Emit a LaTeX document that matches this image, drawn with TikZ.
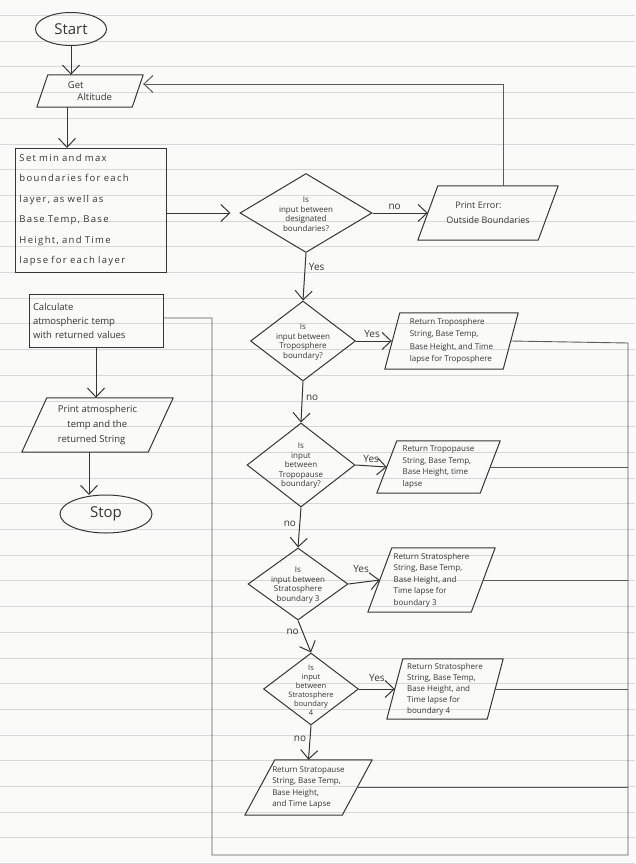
\documentclass[tikz,border=0pt]{standalone}
\usepackage{fontspec}
\setmainfont{Open Sans}
\usetikzlibrary{shapes.geometric,arrows.meta,calc}
\definecolor{pencil}{HTML}{363636}
\definecolor{softpencil}{HTML}{5A5A5A}
\definecolor{ruling}{HTML}{D4D8DD}
\definecolor{paper}{HTML}{FAFAF8}

% outline of a slanted input/output box drawn round a rectangular node
\newcommand\paraoutline[2]{%
  \draw[draw=pencil,line width=1pt,line join=round]
    ([xshift=#2]#1.north west) -- (#1.north east) --
    ([xshift=-#2]#1.south east) -- (#1.south west) -- cycle;}

\begin{document}
\begin{tikzpicture}[x=1pt,y=-1pt,
  ink/.style={draw=pencil,line width=1pt},
  flow/.style={draw=pencil,line width=1pt,
    -{Straight Barb[length=9pt,width=17pt,line width=1pt]}},
  ret/.style={draw=softpencil,line width=0.9pt},
  loopback/.style={draw=softpencil,line width=0.9pt,
    -{Straight Barb[length=9pt,width=17pt,line width=1pt]}},
  txt/.style={text=pencil,font=\fontsize{8.5}{11}\selectfont,align=left},
  terminal/.style={ellipse,ink,inner sep=0pt,text=pencil,
    font=\fontsize{15}{17}\selectfont},
  procbox/.style={rectangle,ink,inner sep=0pt,txt},
  iobox/.style={rectangle,inner sep=0pt,txt},
  decision/.style={diamond,ink,inner sep=0pt},
  dtext/.style={text=pencil,font=\fontsize{8}{9.5}\selectfont,align=center},
  branch/.style={text=pencil,font=\fontsize{10}{11}\selectfont},
]
% ruled paper
\fill[paper] (0,0) rectangle (635,864);
\useasboundingbox (0,0) rectangle (635,864);
\foreach \k in {0,...,33}
  \draw[ruling,line width=0.6pt] (0,{15.3+25.7*\k}) -- (635,{15.3+25.7*\k});

% ---- left column
\node[terminal,minimum width=71pt,minimum height=33pt] (start) at (71,29) {Start};

\node[iobox,minimum width=106pt,minimum height=32pt,
  font=\fontsize{9.5}{12}\selectfont] (alt) at (90,91) {Get\\\quad Altitude};
\paraoutline{alt}{11pt}

\node[procbox,minimum width=151pt,minimum height=124pt,text width=142pt,
  font=\fontsize{9.5}{20.5}\selectfont\addfontfeature{LetterSpace=14}]
  (setup) at (90.5,210)
  {Set min and max\\boundaries for each\\layer, as well as\\Base Temp, Base\\Height, and Time\\lapse for each layer};

\node[procbox,minimum width=134pt,minimum height=53pt,text width=126pt,
  font=\fontsize{9.5}{14}\selectfont] (calc) at (96,320.5)
  {Calculate\\atmospheric temp\\with returned values};

\node[iobox,minimum width=151pt,minimum height=54pt,
  font=\fontsize{9.5}{15}\selectfont] (print) at (97.5,425)
  {Print atmospheric\\\quad temp and the\\returned String};
\paraoutline{print}{25pt}

\node[terminal,minimum width=92pt,minimum height=38pt] (stop) at (106,514) {Stop};

% ---- decision chain
\node[decision,minimum width=132pt,minimum height=79pt] (d1) at (306,213) {};
\node[dtext] (d1t) at (306,214) {Is\\input between\\designated\\boundaries?};

\node[iobox,minimum width=140pt,minimum height=54pt,
  font=\fontsize{9}{15}\selectfont] (err) at (488,213)
  {\quad Print Error:\\Outside Boundaries};
\paraoutline{err}{20pt}

\node[decision,minimum width=105pt,minimum height=80pt] (d2) at (303,341) {};
\node[dtext] (d2t) at (303,342) {Is\\input between\\Troposphere\\boundary?};

\node[iobox,minimum width=133pt,minimum height=56pt,
  font=\fontsize{8}{12.5}\selectfont] (trop) at (451.5,341)
  {Return Troposphere\\String, Base Temp,\\Base Height, and Time\\lapse for Troposphere};
\paraoutline{trop}{15pt}

\node[decision,minimum width=108pt,minimum height=84pt] (d3) at (301,465) {};
\node[dtext] (d3t) at (301,466) {Is\\input\\between\\Tropopause\\boundary?};

\node[iobox,minimum width=123pt,minimum height=52pt,
  font=\fontsize{8}{11.5}\selectfont] (tpause) at (438.5,467)
  {Return Tropopause\\String, Base Temp,\\Base Height, time\\lapse};
\paraoutline{tpause}{20pt}

\node[decision,minimum width=100pt,minimum height=72pt] (d4) at (298,584) {};
\node[dtext] (d4t) at (298,585) {Is\\input between\\Stratosphere\\boundary 3};

\node[iobox,minimum width=127pt,minimum height=64pt,
  font=\fontsize{8}{11.5}\selectfont] (s3) at (431.5,580)
  {Return Stratosphere\\String, Base Temp,\\Base Height, and\\Time lapse for\\boundary 3};
\paraoutline{s3}{24pt}

\node[decision,minimum width=95pt,minimum height=72pt] (d5) at (311,689) {};
\node[dtext,font=\fontsize{7.5}{9}\selectfont] (d5t) at (311,690)
  {Is\\input\\between\\Stratosphere\\boundary\\4};

\node[iobox,minimum width=116pt,minimum height=60pt,
  font=\fontsize{8}{11}\selectfont] (s4) at (445,689)
  {Return Stratosphere\\String, Base Temp,\\Base Height, and\\Time lapse for\\boundary 4};
\paraoutline{s4}{16pt}

\node[iobox,minimum width=127pt,minimum height=55pt,
  font=\fontsize{8}{11.5}\selectfont] (spause) at (308.5,787.5)
  {Return Stratopause\\String, Base Temp,\\Base Height,\\and Time Lapse};
\paraoutline{spause}{30pt}

% ---- return bus
\coordinate (busTop) at (628,343);
\coordinate (busBR) at (628,855);
\coordinate (busBL) at (212,855);
\coordinate (busTL) at (212,318);
\coordinate (loopTop) at (503,84);

% ---- connectors
\draw[flow] (start.south) -- (start.south |- alt.north);
\draw[flow] (67,107) -- (67,148);
\draw[flow,shorten >=9pt] (setup.east |- d1.west) -- (d1.west);
\draw[flow] (d1.east) -- node[branch,above,pos=0.4] {no} ([xshift=10pt]err.west);
\draw[loopback] (loopTop |- err.north) -- (loopTop) -- (loopTop -| alt.east);

\draw[flow] (d1.south) -- node[branch,right,pos=0.3] {Yes} (d2.north);
\draw[flow] (d2.east) -- node[branch,above,pos=0.45] {Yes} ([xshift=7pt]trop.west);
\draw[flow] (d2.south) -- node[branch,right,pos=0.4] {no} (d3.north);
\draw[flow] (d3.east) -- node[branch,above,pos=0.5] {Yes} ([xshift=10pt]tpause.west);
\draw[flow] (d3.south) -- node[branch,left,pos=0.4] {no} (d4.north);
\draw[flow] (d4.east) -- node[branch,above,pos=0.4,yshift=6pt] {Yes} ([xshift=12pt]s3.west);
\draw[flow] (d4.south) -- node[branch,left,pos=0.35] {no} (d5.north);
\draw[flow] (d5.east) -- node[branch,above,pos=0.5,yshift=4pt] {Yes} ([xshift=8pt]s4.west);
\draw[flow] (d5.south) -- node[branch,left,pos=0.4] {no} (spause.north);

\draw[ret] ([xshift=-7pt]trop.east) -- (busTop) -- (busBR) -- (busBL)
  -- (busTL) -- (busTL -| calc.east);
\draw[ret] ([xshift=-10pt]tpause.east) -- (tpause.east -| busTop);
\draw[ret] ([xshift=-12pt]s3.east) -- (s3.east -| busTop);
\draw[ret] ([xshift=-8pt]s4.east) -- (s4.east -| busTop);
\draw[ret] ([xshift=-15pt]spause.east) -- (spause.east -| busTop);

\draw[flow] (calc.south) -- (calc.south |- print.north);
\draw[flow] (89,452) -- (89,495);
\end{tikzpicture}
\end{document}
